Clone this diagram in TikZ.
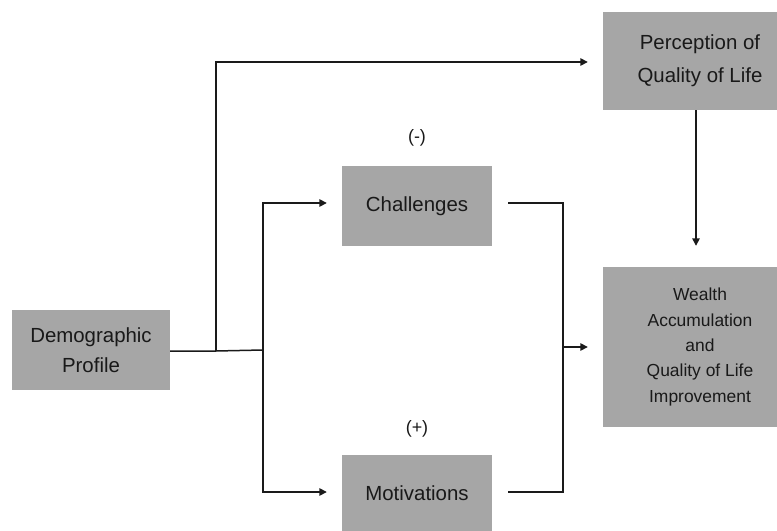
\documentclass[tikz,border=0pt]{standalone}
\usepackage{fontspec}
\setmainfont{Liberation Sans}
\usetikzlibrary{arrows.meta}
\definecolor{boxgray}{HTML}{A6A6A6}
\definecolor{linegray}{HTML}{1A1A1A}
\tikzset{
  box/.style={fill=boxgray, draw=none, inner sep=0pt, align=center, text=black!90,
    font=\fontsize{20.5}{30}\selectfont},
  percbox/.style={box, font=\fontsize{20.5}{33}\selectfont},
  smallbox/.style={box, font=\fontsize{17.5}{25.5}\selectfont},
  conn/.style={draw=linegray, line width=1.5bp},
  arr/.style={conn, -{Triangle[length=7.5bp,width=7.5bp]}},
  sign/.style={font=\fontsize{18}{20}\selectfont, text=black!90}
}
\begin{document}
\begin{tikzpicture}[x=1bp,y=-1bp]
\useasboundingbox (0,0) rectangle (777,531);
\node[box, minimum width=158bp, minimum height=80bp] (demo) at (91,350) {Demographic\\Profile};
\node[percbox, minimum width=194bp, minimum height=98bp] (perc) at (700,61) {Perception of\\Quality of Life};
\node[smallbox, minimum width=194bp, minimum height=160bp] (wealth) at (700,347) {Wealth\\Accumulation\\and\\Quality of Life\\Improvement};
\node[box, minimum width=150bp, minimum height=80bp] (chal) at (417,206) {Challenges};
\node[box, minimum width=150bp, minimum height=76bp] (motiv) at (417,493) {Motivations};
\node[sign] (minus) at (417,138) {(-)};
\node[sign] (plus) at (417,429) {(+)};
\coordinate (j1) at (216,351);
\coordinate (j2) at (263,350);
\coordinate (j3) at (563,347);
% demographic branches
\draw[conn] (demo.east |- j1) -- (j1) -- (j2);
\draw[arr, shorten >=15bp] (j1) |- (perc.west |- 0,62);
\draw[arr, shorten >=15bp] (j2) |- (chal.west |- 0,203);
\draw[arr, shorten >=15bp] (j2) |- (motiv.west |- 0,492);
% merge to wealth
\draw[conn, shorten <=16bp] (chal.east |- 0,203) -| (j3);
\draw[conn, shorten <=16bp] (motiv.east |- 0,492) -| (j3);
\draw[arr, shorten >=15bp] (j3) -- (wealth.west |- j3);
% perception down
\draw[arr, shorten >=21bp] (perc.south -| 696,0) -- (wealth.north -| 696,0);
\end{tikzpicture}
\end{document}
